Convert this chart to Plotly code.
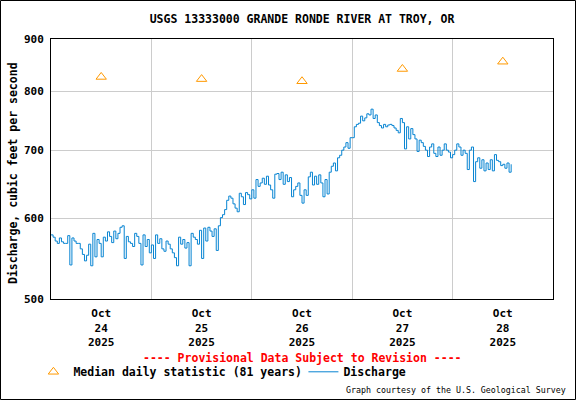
import plotly.graph_objects as go
import pandas as pd

# median daily statistic (81 years), one value per day at noon
median_days = ["2025-10-24 12:00", "2025-10-25 12:00", "2025-10-26 12:00",
               "2025-10-27 12:00", "2025-10-28 12:00"]
median_cfs = [826, 822, 818, 841, 855]

# discharge, cfs, read every 30 minutes from the graph
q_oct24 = [578, 575, 570, 567, 574, 569, 567, 567, 577, 540, 574, 570, 567, 567, 560, 553,
           545, 552, 566, 539, 580, 550, 572, 567, 550, 575, 570, 582, 576, 568, 583, 573,
           580, 588, 590, 548, 576, 569, 567, 563, 580, 576, 567, 540, 578, 563, 572, 555]
q_oct25 = [565, 548, 578, 567, 573, 560, 557, 570, 566, 560, 555, 549, 539, 575, 566, 572,
           561, 568, 539, 580, 575, 572, 566, 584, 548, 587, 570, 588, 583, 576, 586, 558,
           590, 601, 605, 612, 625, 631, 628, 620, 614, 609, 635, 630, 619, 636, 633, 627]
q_oct26 = [640, 628, 655, 645, 650, 657, 648, 660, 647, 640, 628, 663, 664, 655, 666, 648,
           662, 652, 658, 630, 640, 645, 650, 632, 621, 640, 632, 659, 666, 647, 660, 648,
           662, 650, 630, 655, 634, 666, 675, 680, 668, 688, 692, 700, 705, 712, 703, 720]
q_oct27 = [720, 738, 742, 744, 756, 748, 753, 760, 758, 768, 752, 758, 745, 740, 736, 742,
           738, 741, 742, 740, 736, 732, 728, 752, 745, 702, 738, 718, 735, 725, 718, 698,
           716, 712, 706, 700, 690, 705, 710, 695, 690, 705, 692, 700, 710, 700, 697, 688]
q_oct28 = [693, 700, 710, 705, 692, 700, 695, 670, 700, 705, 652, 682, 688, 672, 685, 668,
           680, 670, 685, 668, 693, 684, 682, 676, 678, 672, 680, 666, 678]

discharge = q_oct24 + q_oct25 + q_oct26 + q_oct27 + q_oct28
times = pd.date_range("2025-10-24 00:00", periods=len(discharge), freq="30min")

day_labels = ["Oct<br>24<br>2025", "Oct<br>25<br>2025", "Oct<br>26<br>2025",
              "Oct<br>27<br>2025", "Oct<br>28<br>2025"]
midnights = ["2025-10-25", "2025-10-26", "2025-10-27", "2025-10-28"]
y_ticks = [500, 600, 700, 800, 900]

mono = "DejaVu Sans Mono"

fig = go.Figure()
fig.add_trace(go.Scatter(x=median_days, y=median_cfs, mode="markers",
                         name="Median daily statistic (81 years)",
                         marker=dict(symbol="triangle-up-open", size=9, color="#ff9900",
                                     line=dict(width=1))))
fig.add_trace(go.Scatter(x=times, y=discharge, mode="lines", name="Discharge",
                         line=dict(color="#0784d2", width=1, shape="hv")))

fig.update_layout(
    width=576, height=400,
    margin=dict(l=51, r=23, t=39, b=101),
    paper_bgcolor="white", plot_bgcolor="white",
    font=dict(family=mono, size=11, color="black", weight="bold"),
    title=dict(text="USGS 13333000 GRANDE RONDE RIVER AT TROY, OR",
               x=0.5, xref="paper", y=1 - 19 / 400, yanchor="middle",
               font=dict(family=mono, size=11.5, weight="bold")),
    showlegend=True,
    legend=dict(orientation="h", x=-0.035, xanchor="left", y=-0.28, yanchor="middle",
                font=dict(family=mono, size=11.5, weight="bold"),
                bgcolor="rgba(0,0,0,0)", itemwidth=30, entrywidth=225,
                tracegroupgap=0),
)

fig.update_xaxes(type="date", range=["2025-10-24", "2025-10-29"],
                 tickvals=["2025-10-24 12:00", "2025-10-25 12:00", "2025-10-26 12:00",
                           "2025-10-27 12:00", "2025-10-28 12:00"],
                 ticktext=day_labels, showgrid=False, ticks="", ticklabelstandoff=4,
                 minor=dict(tickvals=midnights, showgrid=True, gridcolor="#cccccc",
                            gridwidth=1, ticks=""),
                 showline=True, linecolor="black", linewidth=1, mirror=True,
                 zeroline=False, tickfont=dict(family=mono, size=11, weight="bold"))

fig.update_yaxes(type="log", range=[2.69897, 2.9542425], tickvals=y_ticks,
                 ticktext=[str(v) for v in y_ticks],
                 showgrid=True, gridcolor="#cccccc", gridwidth=1, ticks="",
                 ticklabelstandoff=4,
                 showline=True, linecolor="black", linewidth=1, mirror=True,
                 zeroline=False, tickfont=dict(family=mono, size=11, weight="bold"))

fig.add_annotation(text="Discharge, cubic feet per second", textangle=-90,
                   xref="paper", yref="paper", x=(13 - 51) / 502, y=(299 - 173) / 260,
                   xanchor="center", yanchor="middle", showarrow=False,
                   font=dict(family=mono, size=11.5, weight="bold"))
fig.add_annotation(text="---- Provisional Data Subject to Revision ----",
                   xref="paper", yref="paper", x=0.5, y=(299 - 358) / 260,
                   xanchor="center", yanchor="middle", showarrow=False,
                   font=dict(family=mono, size=11.5, color="#ff0000", weight="bold"))
fig.add_annotation(text="Graph courtesy of the U.S. Geological Survey",
                   xref="paper", yref="paper", x=(568 - 51) / 502, y=(299 - 390) / 260,
                   xanchor="right", yanchor="middle", showarrow=False,
                   font=dict(family=mono, size=8.3, weight="normal"))

# frame around the whole picture
fig.add_shape(type="rect", xref="paper", yref="paper",
              x0=(0.5 - 51) / 502, x1=(575.5 - 51) / 502,
              y0=(299 - 399.5) / 260, y1=(299 - 0.5) / 260,
              line=dict(color="black", width=1), layer="above")

fig.write_html("out.html", config={"displayModeBar": False},
               post_script="document.body.style.margin = '0';")
